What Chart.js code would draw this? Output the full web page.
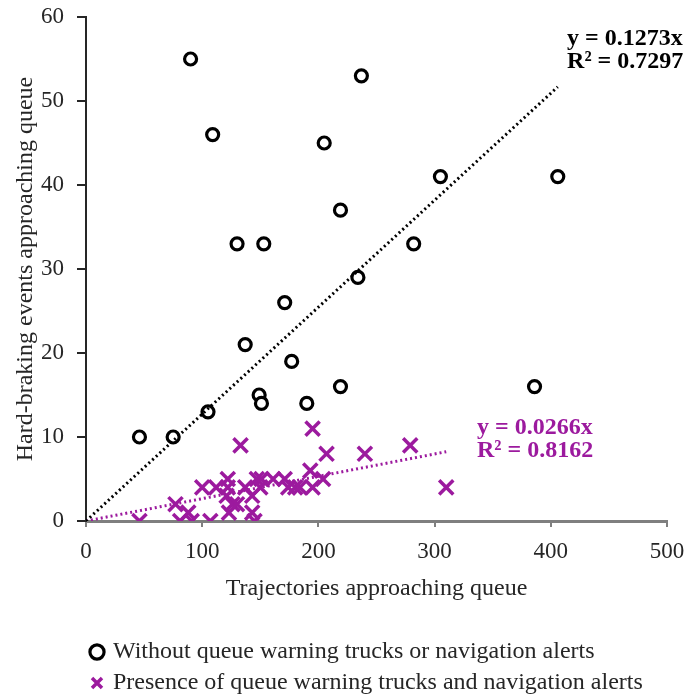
<!DOCTYPE html>
<html>
<head>
<meta charset="utf-8">
<script src="https://cdn.jsdelivr.net/npm/chart.js@4.4.1/dist/chart.umd.min.js"></script>
<style>
    html, body { margin: 0; padding: 0; background: #fff; }
</style>
</head>
<body>
<canvas id="queueChart" width="689" height="694"></canvas>
<script>
// Without queue warning trucks or navigation alerts
const noAlertX = [90, 237, 109, 205, 305, 406, 219, 130, 153, 282, 234, 171, 137, 177, 386, 219, 149, 151, 190, 105, 46, 75];
const noAlertY = [55, 53, 46, 45, 41, 41, 37, 33, 33, 33, 29, 26, 21, 19, 16, 16, 15, 14, 14, 13, 10, 10];

// Presence of queue warning trucks and navigation alerts
const alertX = [46, 77, 81, 88, 91, 107, 100, 112, 122, 122, 121, 126, 123, 130, 133, 137, 143, 143, 145, 147, 151, 150, 161, 171, 174, 180, 184, 193, 195, 195, 204, 207, 240, 279, 310];
const alertY = [0, 2, 0, 1, 0, 0, 4, 4, 5, 4, 3, 2, 1, 2, 9, 4, 3, 1, 0, 5, 5, 4, 5, 5, 4, 4, 4, 6, 11, 4, 5, 8, 8, 9, 4];

// Linear trendlines through the origin (Excel)
const slopes = [0.1273, 0.0266];
const rSquared = ['0.7297', '0.8162'];

const seriesNames = [
    'Without queue warning trucks or navigation alerts',
    'Presence of queue warning trucks and navigation alerts'
];
const xTicks = [0, 100, 200, 300, 400, 500];
const yTicks = [0, 10, 20, 30, 40, 50, 60];

const BLACK = '#000000';
const PURPLE = '#9c1a9e';
const TEXT = '#262626';
const FONT = "'Liberation Serif', 'Times New Roman', serif";

function toPoints(xs, ys) {
    return xs.map((x, i) => ({ x: x, y: ys[i] }));
}

function trendPoints(slope, xs) {
    const xEnd = Math.max(...xs);
    return [{ x: 0, y: 0 }, { x: xEnd, y: slope * xEnd }];
}

// Draws the trendline equations next to their lines
const trendLabelPlugin = {
    id: 'trendLabels',
    afterDatasetsDraw(chart, args, opts) {
        const { ctx, scales: { x, y } } = chart;
        ctx.save();
        ctx.font = 'bold 24px ' + FONT;
        ctx.textAlign = 'left';
        ctx.textBaseline = 'middle';
        opts.items.forEach(item => {
            const px = x.getPixelForValue(item.x);
            const py = y.getPixelForValue(item.y);
            ctx.fillStyle = item.color;
            item.lines.forEach((line, i) => {
                ctx.fillText(line, px, py + i * 23);
            });
        });
        ctx.restore();
    }
};

const ctx = document.getElementById('queueChart').getContext('2d');
const queueChart = new Chart(ctx, {
    type: 'scatter',
    data: {
        datasets: [
            {
                label: seriesNames[0],
                data: toPoints(noAlertX, noAlertY),
                pointStyle: 'circle',
                pointRadius: 6,
                pointBorderWidth: 3.2,
                borderColor: BLACK,
                backgroundColor: '#ffffff',
                order: 1
            },
            {
                label: seriesNames[1],
                data: toPoints(alertX, alertY),
                pointStyle: 'crossRot',
                pointRadius: 10,
                pointBorderWidth: 3.5,
                borderColor: PURPLE,
                backgroundColor: PURPLE,
                order: 2
            },
            {
                label: 'trend1',
                data: trendPoints(slopes[0], noAlertX),
                showLine: true,
                pointRadius: 0,
                borderColor: BLACK,
                borderWidth: 3,
                borderDash: [2, 3],
                order: 0
            },
            {
                label: 'trend2',
                data: trendPoints(slopes[1], alertX),
                showLine: true,
                pointRadius: 0,
                borderColor: PURPLE,
                borderWidth: 3,
                borderDash: [2, 3],
                order: 0
            }
        ]
    },
    options: {
        responsive: false,
        animation: false,
        layout: { padding: 0 },
        scales: {
            x: {
                type: 'linear',
                min: 0,
                max: 500,
                afterBuildTicks: scale => { scale.ticks = xTicks.map(v => ({ value: v })); },
                afterFit: scale => {
                    scale.height = 112;
                    scale.paddingLeft = 0;
                    scale.paddingRight = 22;
                },
                ticks: { font: { family: FONT, size: 23 }, color: TEXT, padding: 11 },
                grid: { drawOnChartArea: false, tickLength: 6, color: '#7f7f7f', lineWidth: 2 },
                border: { color: '#7f7f7f', width: 3 },
                title: {
                    display: true,
                    text: 'Trajectories approaching queue',
                    font: { family: FONT, size: 24 },
                    color: TEXT,
                    padding: { top: 0, bottom: 30 }
                }
            },
            y: {
                min: 0,
                max: 60,
                afterBuildTicks: scale => { scale.ticks = yTicks.map(v => ({ value: v })); },
                afterFit: scale => {
                    scale.width = 86;
                    scale.paddingTop = 17;
                    scale.paddingBottom = 0;
                },
                ticks: { font: { family: FONT, size: 23 }, color: TEXT, padding: 13 },
                grid: { drawOnChartArea: false, tickLength: 9, color: '#262626', lineWidth: 2 },
                border: { color: '#262626', width: 2 },
                title: {
                    display: true,
                    text: 'Hard-braking events approaching queue',
                    font: { family: FONT, size: 24 },
                    color: TEXT,
                    padding: { top: 11, bottom: 0 }
                }
            }
        },
        plugins: {
            legend: {
                position: 'bottom',
                align: 'start',
                fullSize: false,
                maxHeight: 61,
                labels: {
                    usePointStyle: true,
                    boxWidth: 8,
                    boxHeight: 10,
                    padding: 7,
                    color: TEXT,
                    font: { family: FONT, size: 24 },
                    filter: item => item.datasetIndex < 2
                }
            },
            tooltip: { enabled: false },
            trendLabels: {
                items: [
                    { lines: ['y = ' + slopes[0] + 'x', 'R² = ' + rSquared[0]], x: 414, y: 57.4, color: BLACK },
                    { lines: ['y = ' + slopes[1] + 'x', 'R² = ' + rSquared[1]], x: 336.5, y: 11.1, color: PURPLE }
                ]
            }
        }
    },
    plugins: [trendLabelPlugin]
});
</script>
</body>
</html>
